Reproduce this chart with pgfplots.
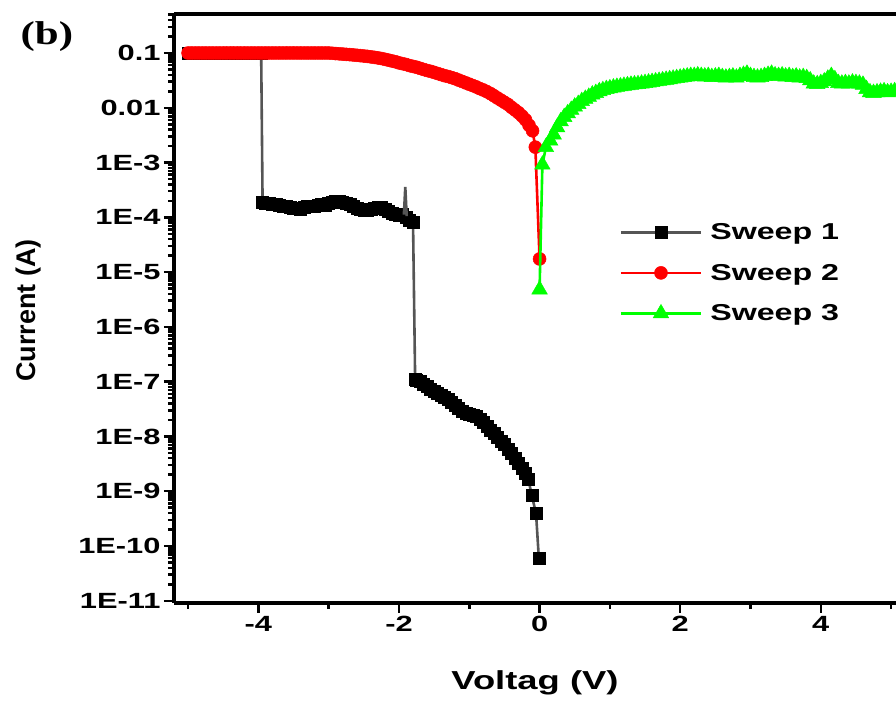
\documentclass[border=0pt]{standalone}
\usepackage{fontspec}
\setmainfont{Liberation Sans}[FakeStretch=1.4]
\newfontfamily\plainsans{Liberation Sans}
\newfontfamily\serifb{Liberation Serif}[FakeStretch=1.3]
\usepackage{pgfplots}
\pgfplotsset{compat=1.18}
\definecolor{sgreen}{RGB}{0,255,0}
\definecolor{sred}{RGB}{255,0,0}
\definecolor{sgray}{RGB}{85,85,85}
\begin{document}
\begin{tikzpicture}
\begin{axis}[
  scale only axis, width=722bp, height=589bp,
  xmin=-5.2, xmax=5.07,
  ymode=log, ymin=9.1e-12, ymax=0.515,
  clip mode=individual,
  axis lines*=left,
  axis line style={line width=3.5bp,-},
  tick style={line width=2.5bp,black},
  tick align=outside,
  major tick length=10bp, minor tick length=6bp,
  xtick={-4,-2,0,2,4},
  xticklabels={\textbf{-4},\textbf{-2},\textbf{0},\textbf{2},\textbf{4}},
  minor xtick={-5,-3,-1,1,3,5},
  ytick={1e-11,1e-10,1e-9,1e-8,1e-7,1e-6,1e-5,1e-4,1e-3,1e-2,1e-1},
  yticklabels={\textbf{1E-11},\textbf{1E-10},\textbf{1E-9},\textbf{1E-8},\textbf{1E-7},\textbf{1E-6},\textbf{1E-5},\textbf{1E-4},\textbf{1E-3},\textbf{0.01},\textbf{0.1}},
  minor ytick={2e-11,3e-11,4e-11,5e-11,6e-11,7e-11,8e-11,9e-11,
    2e-10,3e-10,4e-10,5e-10,6e-10,7e-10,8e-10,9e-10,
    2e-9,3e-9,4e-9,5e-9,6e-9,7e-9,8e-9,9e-9,
    2e-8,3e-8,4e-8,5e-8,6e-8,7e-8,8e-8,9e-8,
    2e-7,3e-7,4e-7,5e-7,6e-7,7e-7,8e-7,9e-7,
    2e-6,3e-6,4e-6,5e-6,6e-6,7e-6,8e-6,9e-6,
    2e-5,3e-5,4e-5,5e-5,6e-5,7e-5,8e-5,9e-5,
    2e-4,3e-4,4e-4,5e-4,6e-4,7e-4,8e-4,9e-4,
    2e-3,3e-3,4e-3,5e-3,6e-3,7e-3,8e-3,9e-3,
    2e-2,3e-2,4e-2,5e-2,6e-2,7e-2,8e-2,9e-2,
    2e-1,3e-1,4e-1,5e-1},
  /pgf/number format/assume math mode=true,
  ticklabel style={font=\fontsize{22bp}{24bp}\selectfont\bfseries},
  xlabel={Voltag (V)}, ylabel={Current (A)},
  xlabel style={font=\fontsize{26bp}{29bp}\selectfont\bfseries, at={(axis description cs:0.5,-0.136)}, anchor=center},
  ylabel style={font=\fontsize{27bp}{30bp}\selectfont\plainsans\bfseries, at={(axis description cs:-0.202,0.497)}, anchor=center},
  legend style={at={(0.617,0.648)}, anchor=north west, draw=none, fill=none,
    font=\fontsize{23bp}{26bp}\selectfont\bfseries, row sep=19bp, inner sep=0pt,
    nodes={inner sep=2bp}},
  legend cell align=left,
  legend image code/.code={\draw[mark repeat=2,mark phase=2] plot coordinates {(0bp,0bp) (40bp,0bp) (80bp,0bp)};},
  /tikz/every odd column/.append style={column sep=6bp},
]
\coordinate (sw) at (rel axis cs:0,0);
\coordinate (ne) at (rel axis cs:1,1);
\draw[line width=3.5bp] (rel axis cs:0,1) -- (rel axis cs:1,1);

% Sweep 1
\addplot[color=sgray, line width=2.6bp, mark=square*, mark size=6bp, mark options={fill=black, draw=black, solid, line width=0.5bp}] coordinates {
(-5.00,0.1)(-4.90,0.1)(-4.80,0.1)(-4.70,0.1)(-4.60,0.1)(-4.50,0.1)(-4.40,0.1)(-4.30,0.1)(-4.20,0.1)(-4.10,0.1)(-4.00,0.1)(-3.96,0.1)
(-3.94,1.90e-4)(-3.90,1.82e-4)(-3.85,1.78e-4)(-3.80,1.74e-4)(-3.75,1.70e-4)(-3.70,1.66e-4)(-3.65,1.58e-4)(-3.60,1.58e-4)
(-3.55,1.51e-4)(-3.50,1.48e-4)(-3.45,1.45e-4)(-3.40,1.41e-4)(-3.35,1.51e-4)(-3.30,1.58e-4)(-3.25,1.62e-4)(-3.20,1.58e-4)
(-3.15,1.66e-4)(-3.10,1.74e-4)(-3.05,1.66e-4)(-3.00,1.78e-4)(-2.95,1.86e-4)(-2.90,1.95e-4)(-2.85,2.00e-4)(-2.80,1.90e-4)
(-2.75,1.82e-4)(-2.70,1.70e-4)(-2.65,1.58e-4)(-2.60,1.45e-4)(-2.55,1.38e-4)(-2.50,1.32e-4)(-2.45,1.35e-4)(-2.40,1.41e-4)
(-2.35,1.48e-4)(-2.30,1.51e-4)(-2.25,1.55e-4)(-2.20,1.41e-4)(-2.15,1.29e-4)(-2.10,1.20e-4)(-2.05,1.12e-4)(-2.00,1.07e-4)
(-1.95,1.12e-4)(-1.90,1.02e-4)(-1.85,8.91e-5)(-1.80,8.13e-5)
(-1.77,1.12e-7)(-1.75,1.07e-7)(-1.70,1.00e-7)(-1.65,9.12e-8)(-1.60,8.13e-8)(-1.55,7.41e-8)(-1.50,6.76e-8)(-1.45,6.17e-8)
(-1.40,5.62e-8)(-1.35,5.13e-8)(-1.30,4.68e-8)(-1.25,4.17e-8)(-1.20,3.72e-8)(-1.15,3.31e-8)(-1.10,2.88e-8)(-1.05,2.63e-8)
(-1.00,2.51e-8)(-0.95,2.45e-8)(-0.90,2.34e-8)(-0.85,2.09e-8)(-0.80,1.82e-8)(-0.75,1.55e-8)(-0.70,1.29e-8)(-0.65,1.12e-8)
(-0.60,9.77e-9)(-0.55,8.32e-9)(-0.50,7.08e-9)(-0.45,5.89e-9)(-0.40,4.90e-9)(-0.35,3.98e-9)(-0.30,3.24e-9)(-0.25,2.63e-9)
(-0.20,2.09e-9)(-0.16,1.66e-9)(-0.11,8.32e-10)(-0.05,3.89e-10)(-0.01,5.89e-11)
};
\addlegendentry{Sweep 1}
\addplot[color=sgray, line width=2.6bp, forget plot] coordinates {(-1.93,1.12e-4)(-1.91,3.6e-4)(-1.89,1.05e-4)};

% Sweep 2
\addplot[color=sred, line width=2.6bp, mark=*, mark size=6.5bp, mark options={fill=sred, draw=sred, solid, line width=0.5bp}] coordinates {
(-5.00,0.1)(-4.95,0.1)(-4.90,0.1)(-4.85,0.1)(-4.80,0.1)(-4.75,0.1)(-4.70,0.1)(-4.65,0.1)(-4.60,0.1)(-4.55,0.1)
(-4.50,0.1)(-4.45,0.1)(-4.40,0.1)(-4.35,0.1)(-4.30,0.1)(-4.25,0.1)(-4.20,0.1)(-4.15,0.1)(-4.10,0.1)(-4.05,0.1)
(-4.00,0.1)(-3.95,0.1)(-3.90,0.1)(-3.85,0.1)(-3.80,0.1)(-3.75,0.1)(-3.70,0.1)(-3.65,0.1)(-3.60,0.1)(-3.55,0.1)
(-3.50,0.1)(-3.45,0.1)(-3.40,0.1)(-3.35,0.1)(-3.30,0.1)(-3.25,0.1)(-3.20,0.1)(-3.15,0.1)(-3.10,0.1)(-3.05,0.1)
(-3.00,0.1)(-2.95,0.0989)(-2.90,0.0977)(-2.85,0.0966)(-2.80,0.0955)(-2.75,0.0944)(-2.70,0.0933)(-2.65,0.0920)
(-2.60,0.0908)(-2.55,0.0895)(-2.50,0.0881)(-2.45,0.0867)(-2.40,0.0851)(-2.35,0.0832)(-2.30,0.0813)(-2.25,0.0794)
(-2.20,0.0767)(-2.15,0.0741)(-2.10,0.0716)(-2.05,0.0692)(-2.00,0.0661)(-1.95,0.0638)(-1.90,0.0617)(-1.85,0.0589)
(-1.80,0.0569)(-1.75,0.0550)(-1.70,0.0525)(-1.65,0.0501)(-1.60,0.0479)(-1.55,0.0462)(-1.50,0.0442)(-1.45,0.0422)
(-1.40,0.0403)(-1.35,0.0385)(-1.30,0.0372)(-1.25,0.0355)(-1.20,0.0339)(-1.15,0.0320)(-1.10,0.0302)(-1.05,0.0285)
(-1.00,0.0269)(-0.95,0.0254)(-0.90,0.0240)(-0.85,0.0224)(-0.80,0.0211)(-0.75,0.0197)(-0.70,0.0182)(-0.65,0.0166)
(-0.60,0.0151)(-0.55,0.0138)(-0.50,0.0126)(-0.45,0.0115)(-0.40,0.0102)(-0.35,0.00912)(-0.30,0.00813)(-0.25,0.00708)
(-0.20,0.00603)(-0.15,0.00479)(-0.10,0.00380)(-0.06,0.00191)(0.00,1.74e-5)
};
\addlegendentry{Sweep 2}

% Sweep 3
\addplot[color=sgreen, line width=2.6bp, mark=triangle*, mark size=9bp, mark options={fill=sgreen, draw=sgreen, solid, line width=0.5bp}] coordinates {
(0.00,4.79e-6)(0.04,9.12e-4)(0.09,1.91e-3)(0.15,2.51e-3)(0.20,3.24e-3)(0.25,4.37e-3)(0.30,5.62e-3)(0.35,6.76e-3)
(0.40,7.94e-3)(0.45,9.12e-3)(0.50,0.0105)(0.55,0.0117)(0.60,0.0132)(0.65,0.0145)(0.70,0.0158)(0.75,0.0174)
(0.80,0.0186)(0.85,0.0200)(0.90,0.0209)(0.95,0.0219)(1.00,0.0226)(1.05,0.0234)(1.10,0.0240)(1.15,0.0245)
(1.20,0.0251)(1.25,0.0257)(1.30,0.0263)(1.35,0.0266)(1.40,0.0269)(1.45,0.0275)(1.50,0.0282)(1.55,0.0288)
(1.60,0.0295)(1.65,0.0302)(1.70,0.0309)(1.75,0.0316)(1.80,0.0324)(1.85,0.0331)(1.90,0.0339)(1.95,0.0347)
(2.00,0.0355)(2.05,0.0363)(2.10,0.0372)(2.15,0.0380)(2.20,0.0380)(2.25,0.0389)(2.30,0.0380)(2.35,0.0372)
(2.40,0.0380)(2.45,0.0363)(2.50,0.0372)(2.55,0.0380)(2.60,0.0363)(2.65,0.0355)(2.70,0.0363)(2.75,0.0372)
(2.80,0.0355)(2.85,0.0380)(2.90,0.0398)(2.95,0.0417)(3.00,0.0380)(3.05,0.0363)(3.10,0.0355)(3.15,0.0363)
(3.20,0.0380)(3.25,0.0398)(3.30,0.0417)(3.35,0.0389)(3.40,0.0380)(3.45,0.0389)(3.50,0.0372)(3.55,0.0380)
(3.60,0.0363)(3.65,0.0372)(3.70,0.0355)(3.75,0.0363)(3.80,0.0347)(3.85,0.0316)(3.90,0.0275)(3.95,0.0269)
(4.00,0.0282)(4.05,0.0302)(4.10,0.0339)(4.15,0.0380)(4.20,0.0331)(4.25,0.0282)(4.30,0.0275)(4.35,0.0282)
(4.40,0.0275)(4.45,0.0288)(4.50,0.0282)(4.55,0.0275)(4.60,0.0263)(4.65,0.0219)(4.70,0.0191)(4.75,0.0186)
(4.80,0.0191)(4.85,0.0195)(4.90,0.0200)(4.95,0.0191)(5.00,0.0195)(5.05,0.0200)
};
\addlegendentry{Sweep 3}

\node[font=\fontsize{33bp}{36bp}\selectfont\serifb\bfseries, anchor=center] at (axis description cs:-0.176,0.962) {(b)};
\end{axis}
\pgfresetboundingbox
\path ([xshift=-174bp,yshift=-99bp]sw) rectangle ([yshift=14bp]ne);
\end{tikzpicture}
\end{document}
